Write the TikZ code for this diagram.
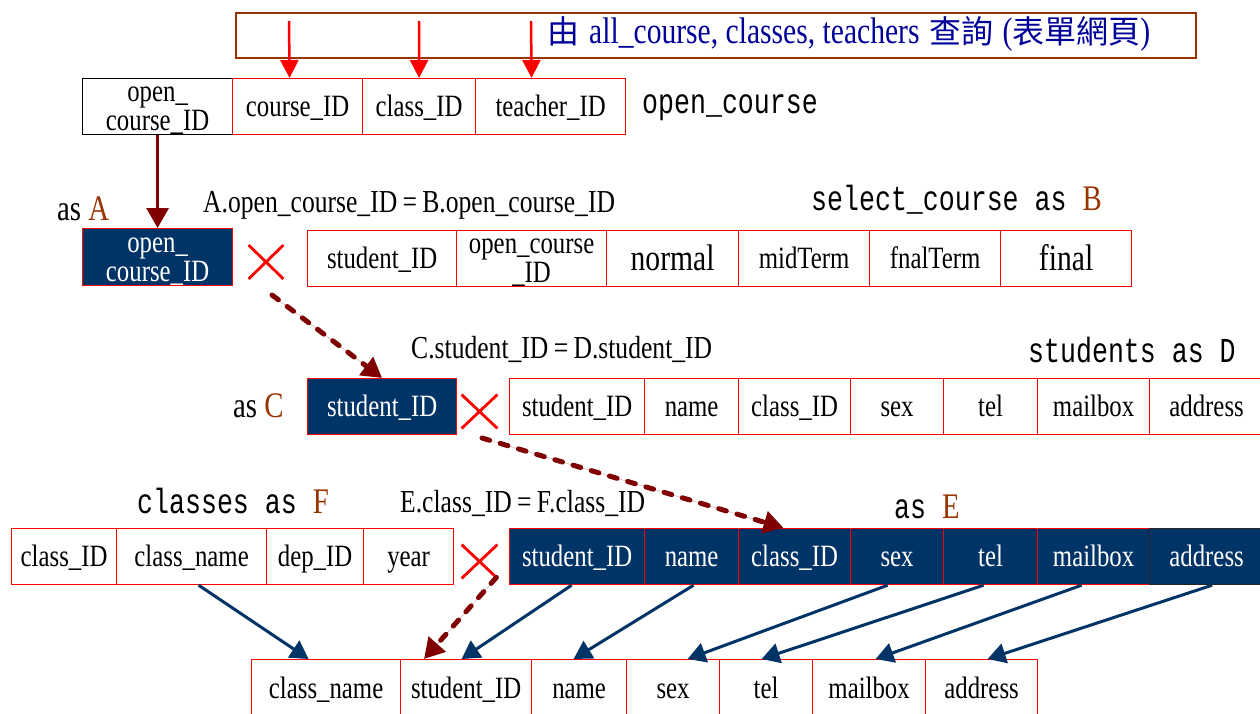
\documentclass[tikz,border=0pt]{standalone}
\usepackage{fontspec}
\setmainfont{Liberation Serif}[FakeStretch=0.8]
\newfontfamily\cjk{Noto Sans CJK TC}
\newfontfamily\monof{Liberation Mono}[FakeStretch=0.76]
\usetikzlibrary{arrows.meta,shapes.misc}
\definecolor{navy}{RGB}{0,51,102}
\definecolor{dred}{RGB}{128,0,0}
\definecolor{brownc}{RGB}{153,51,0}
\definecolor{bannerblue}{RGB}{0,0,153}
\newcommand\cjkt[1]{{\cjk\fontsize{32}{32}\selectfont #1}}
\begin{document}
\begin{tikzpicture}[x=1pt,y=-1pt,
  cell/.style={draw=red, line width=1.2pt, inner sep=0pt, anchor=north west, align=center,
    font=\fontsize{31}{29}\selectfont, text height=24pt, text depth=4pt},
  twoline/.style={text height=52pt, text depth=4pt},
  navycell/.style={cell, fill=navy, text=white},
  lab/.style={anchor=base west, inner sep=0pt, font=\fontsize{32}{32}\selectfont},
  monolab/.style={anchor=base west, inner sep=0pt, font=\monof\fontsize{35}{35}\selectfont},
  big/.style={font=\fontsize{37}{37}\selectfont, text height=27pt, text depth=4pt},
  xmark/.style={cross out, draw=red, line width=2.8pt, inner sep=0pt, minimum width=32pt, minimum height=31pt},
  redarr/.style={draw=red, line width=2.5pt, -{Triangle[length=18pt,width=18pt]}},
  darkarr/.style={draw=dred, line width=3pt, -{Triangle[length=20pt,width=22pt]}},
  dasharr/.style={draw=dred, fill=dred, line width=5pt, line cap=round, dash pattern=on 8pt off 11pt,
    -{Triangle[length=20pt,width=22pt,line cap=butt]}},
  bluearr/.style={draw=navy, line width=3pt, -{Triangle[length=18pt,width=20pt]}}
]
\useasboundingbox (0,0) rectangle (1260,713);

% banner
\node[draw=brownc, line width=1.6pt, anchor=north west, minimum width=960pt, minimum height=45pt, inner sep=0pt] (banner) at (235,12) {};
\node[anchor=base west, inner sep=0pt, text=bannerblue, font=\fontsize{37}{37}\selectfont] (bantext) at (547,43)
  {\cjkt{由}\hspace{10pt}all\_course, classes, teachers\hspace{10pt}\cjkt{查詢}\hspace{9pt}(\cjkt{表單網頁})};

% open_course row
\node[cell, twoline, draw=black, minimum width=150pt, minimum height=56pt] (oc1) at (82,78) {open\_\\course\_ID};
\node[cell, minimum width=130pt, minimum height=56pt] (oc2) at (232,78) {course\_ID};
\node[cell, minimum width=113pt, minimum height=56pt] (oc3) at (362,78) {class\_ID};
\node[cell, minimum width=150pt, minimum height=56pt] (oc4) at (475,78) {teacher\_ID};
\node[monolab] (lbloc) at (642,113) {open\_course};

\coordinate (r1) at (289,21);
\coordinate (r2) at (419,21);
\coordinate (r3) at (531,21);
\draw[redarr] (r1) -- ([xshift=-8pt]oc2.north);
\draw[redarr] (r2) -- (oc3.north);
\draw[redarr] (r3) -- ([xshift=-19pt]oc4.north);

% labels row A/B
\node[lab, font=\fontsize{36}{36}\selectfont] (asA) at (57,220) {as \textcolor{brownc}{A}};
\node[lab] (eqAB) at (203,212) {A.open\_course\_ID\,=\,B.open\_course\_ID};
\node[monolab] (lbsc) at (811,210) {select\_course as \textcolor{brownc}{\rmfamily\fontsize{36}{36}\selectfont B}};

% A cell
\node[navycell, twoline, text height=53pt, minimum width=150pt, minimum height=57pt] (A) at (82,228) {open\_\\course\_ID};
\draw[darkarr] (oc1.south) -- (A.north);
\node[xmark] (x1) at (266,262) {};

% B row
\node[cell, minimum width=149pt, minimum height=56pt] (b1) at (307,230) {student\_ID};
\node[cell, twoline, minimum width=150pt, minimum height=56pt] (b2) at (456,230) {open\_course\\\_ID};
\node[cell, big, minimum width=132pt, minimum height=56pt] (b3) at (606,230) {normal};
\node[cell, minimum width=131pt, minimum height=56pt] (b4) at (738,230) {midTerm};
\node[cell, minimum width=131pt, minimum height=56pt] (b5) at (869,230) {fnalTerm};
\node[cell, big, minimum width=131pt, minimum height=56pt] (b6) at (1000,230) {final};

% labels row C/D
\node[lab, font=\fontsize{36}{36}\selectfont] (asC) at (233,417) {as \textcolor{brownc}{C}};
\node[lab] (eqCD) at (411,358) {C.student\_ID\,=\,D.student\_ID};
\node[monolab] (lbst) at (1028,362) {students as D};

% C cell
\node[navycell, minimum width=149pt, minimum height=56pt] (C) at (307,378) {student\_ID};
\coordinate (d1s) at (272,295);
\draw[dasharr] (d1s) -- (C.north);
\node[xmark, minimum width=33pt] (x2) at (479.5,411.5) {};

% D row
\node[cell, minimum width=135pt, minimum height=56pt] (d1) at (509,378) {student\_ID};
\node[cell, minimum width=94pt, minimum height=56pt] (d2) at (644,378) {name};
\node[cell, minimum width=112pt, minimum height=56pt] (d3) at (738,378) {class\_ID};
\node[cell, minimum width=93pt, minimum height=56pt] (d4) at (850,378) {sex};
\node[cell, minimum width=94pt, minimum height=56pt] (d5) at (943,378) {tel};
\node[cell, minimum width=112pt, minimum height=56pt] (d6) at (1037,378) {mailbox};
\node[cell, minimum width=114pt, minimum height=56pt] (d7) at (1149,378) {address};

% labels row E/F
\node[monolab] (lbcl) at (137,513) {classes as \textcolor{brownc}{\rmfamily\fontsize{36}{36}\selectfont F}};
\node[lab] (eqEF) at (400,512) {E.class\_ID\,=\,F.class\_ID};
\node[monolab] (asE) at (894,518) {as \textcolor{brownc}{\rmfamily\fontsize{36}{36}\selectfont E}};

% F row
\node[cell, minimum width=105pt, minimum height=56pt] (f1) at (11,528) {class\_ID};
\node[cell, minimum width=150pt, minimum height=56pt] (f2) at (116,528) {class\_name};
\node[cell, minimum width=97pt, minimum height=56pt] (f3) at (266,528) {dep\_ID};
\node[cell, minimum width=90pt, minimum height=56pt] (f4) at (363,528) {year};
\node[xmark, minimum width=33pt] (x3) at (479.5,561.5) {};

% E row
\node[navycell, minimum width=135pt, minimum height=56pt] (e1) at (509,528) {student\_ID};
\node[navycell, minimum width=94pt, minimum height=56pt] (e2) at (644,528) {name};
\node[navycell, minimum width=112pt, minimum height=56pt] (e3) at (738,528) {class\_ID};
\node[navycell, minimum width=93pt, minimum height=56pt] (e4) at (850,528) {sex};
\node[navycell, minimum width=94pt, minimum height=56pt] (e5) at (943,528) {tel};
\node[navycell, minimum width=112pt, minimum height=56pt] (e6) at (1037,528) {mailbox};
\node[navycell, draw=black!85, minimum width=114pt, minimum height=56pt] (e7) at (1149,528) {address};

\coordinate (d2s) at (482,438);
\draw[dasharr] (d2s) -- ([xshift=-11pt]e3.north);

% bottom row
\node[cell, minimum width=149pt, minimum height=58pt] (g1) at (251,659) {class\_name};
\node[cell, minimum width=131pt, minimum height=58pt] (g2) at (400,659) {student\_ID};
\node[cell, minimum width=95pt, minimum height=58pt] (g3) at (531,659) {name};
\node[cell, minimum width=93pt, minimum height=58pt] (g4) at (626,659) {sex};
\node[cell, minimum width=93pt, minimum height=58pt] (g5) at (719,659) {tel};
\node[cell, minimum width=113pt, minimum height=58pt] (g6) at (812,659) {mailbox};
\node[cell, minimum width=112pt, minimum height=58pt] (g7) at (925,659) {address};

\draw[dasharr] ([xshift=-1pt,yshift=1pt]x3.south east) -- ([xshift=24pt]g2.north west);

\draw[bluearr] ([xshift=7pt]f2.south) -- ([xshift=-17.5pt]g1.north);
\draw[bluearr] ([xshift=-5.5pt]e1.south) -- ([xshift=-4.5pt]g2.north);
\draw[bluearr] ([xshift=2pt]e2.south) -- ([xshift=-5.5pt]g3.north);
\draw[bluearr] ([xshift=-9.5pt]e4.south) -- ([xshift=14.5pt]g4.north);
\draw[bluearr] ([xshift=-7pt]e5.south) -- ([xshift=-4.5pt]g5.north);
\draw[bluearr] ([xshift=-12pt]e6.south) -- ([xshift=6.5pt]g6.north);
\draw[bluearr] ([xshift=5.5pt]e7.south) -- ([xshift=6pt]g7.north);
\end{tikzpicture}
\end{document}
